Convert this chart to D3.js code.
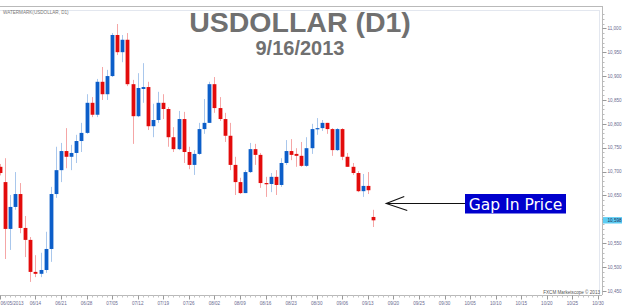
<!DOCTYPE html>
<html>
<head>
<meta charset="utf-8">
<script src="https://cdn.jsdelivr.net/npm/d3@7"></script>
<style>
  html, body { margin: 0; padding: 0; background: #fff; }
  svg { display: block; }
</style>
</head>
<body>
<div id="chart"></div>
<script>
// daily candles, USDOLLAR 06/05/2013 - 09/16/2013
const dates = [
  "06/05","06/06","06/07",
  "06/10","06/11","06/12","06/13","06/14",
  "06/17","06/18","06/19","06/20","06/21",
  "06/24","06/25","06/26","06/27","06/28",
  "07/01","07/02","07/03","07/04","07/05",
  "07/08","07/09","07/10","07/11","07/12",
  "07/15","07/16","07/17","07/18","07/19",
  "07/22","07/23","07/24","07/25","07/26",
  "07/29","07/30","07/31","08/01","08/02",
  "08/05","08/06","08/07","08/08","08/09",
  "08/12","08/13","08/14","08/15","08/16",
  "08/19","08/20","08/21","08/22","08/23",
  "08/26","08/27","08/28","08/29","08/30",
  "09/02","09/03","09/04","09/05","09/06",
  "09/09","09/10","09/11","09/12","09/13",
  "09/16"
];
const opens = [
  10710,10678,10580,10626,10653,10582,10557,10490,10486,10494,
  10538,10653,10703,10743,10731,10739,10764,10781,10844,10819,
  10888,10862,10900,10986,10950,10976,10883,10816,10873,10877,
  10795,10808,10844,10831,10772,10747,10810,10741,10714,10737,
  10789,10802,10883,10833,10810,10775,10714,10678,10655,10699,
  10747,10735,10676,10674,10689,10672,10718,10743,10737,10733,
  10712,10749,10789,10791,10802,10789,10745,10789,10731,10710,
  10697,10659,10670,10605
];
const highs = [
  10716,10728,10651,10699,10676,10607,10563,10525,10530,10574,
  10668,10752,10760,10791,10756,10777,10802,10862,10856,10894,
  10919,10913,10990,11009,10986,10990,10892,10906,10927,10888,
  10842,10867,10862,10835,10793,10827,10825,10752,10745,10802,
  10852,10888,10898,10856,10823,10802,10731,10687,10703,10760,
  10758,10739,10689,10697,10703,10728,10766,10768,10749,10762,
  10772,10800,10812,10808,10802,10791,10791,10791,10739,10718,
  10701,10695,10699,10620
];
const lows = [
  10692,10517,10536,10620,10571,10521,10469,10479,10479,10488,
  10511,10645,10678,10707,10703,10718,10741,10779,10814,10814,
  10850,10850,10898,10944,10929,10879,10758,10814,10844,10787,
  10772,10802,10810,10752,10741,10745,10718,10705,10693,10735,
  10779,10802,10823,10806,10762,10703,10651,10653,10655,10697,
  10714,10666,10647,10657,10651,10668,10714,10724,10710,10710,
  10710,10737,10777,10785,10779,10733,10743,10724,10710,10693,
  10657,10647,10653,10584
];
const closes = [
  10697,10580,10626,10653,10582,10557,10490,10486,10494,10538,
  10653,10703,10743,10731,10739,10764,10781,10844,10819,10888,
  10862,10900,10986,10950,10976,10883,10816,10875,10877,10795,
  10808,10844,10831,10772,10747,10810,10741,10714,10737,10789,
  10802,10883,10833,10810,10775,10714,10678,10655,10699,10747,
  10735,10676,10674,10689,10672,10718,10743,10735,10733,10712,
  10749,10789,10791,10802,10789,10745,10789,10731,10710,10697,
  10659,10670,10661,10598
];

// x axis: tick labels and the day slot they sit on (slots go past the data)
const tickLabels = ["06/05/2013","06/14","06/21","06/28","07/05","07/12","07/19","07/26",
  "08/02","08/09","08/16","08/23","08/30","09/06","09/13","09/20","09/25","09/30",
  "10/05","10/10","10/15","10/20","10/25","10/30"];
const tickSlots = [0,7,12,17,22,27,32,37,42,47,52,57,62,67,72,77,82,87,92,97,102,107,112,117];

const priceTicks = [10450,10500,10550,10600,10650,10700,10750,10800,10850,10900,10950,11000];
const lastPrice = 10598;

const W = 624, H = 308;
const axisX = 602, axisY = 295;
const small = "'Liberation Sans', Arial, sans-serif";

const candles = dates.map((d, i) => ({
  i: i, date: d, o: opens[i], h: highs[i], l: lows[i], c: closes[i]
}));

const svg = d3.select("#chart").append("svg")
  .attr("width", W).attr("height", H)
  .style("font-family", small);

var x = d3.scaleLinear().domain([0, 117]).range([-0.4, 598]);
var y = d3.scaleLinear().domain([10450, 11000]).range([291, 28.3]);

// frame
svg.append("line").attr("x1", 0).attr("x2", axisX).attr("y1", 6.5).attr("y2", 6.5)
  .attr("stroke", "#b9b9b9");
svg.append("line").attr("x1", 0).attr("x2", 599).attr("y1", 10.5).attr("y2", 10.5)
  .attr("stroke", "#e3e7ef");
svg.append("line").attr("x1", 599.5).attr("x2", 599.5).attr("y1", 10).attr("y2", axisY)
  .attr("stroke", "#e3e7ef");

// title
svg.append("text").attr("x", 300).attr("y", 31.5).attr("text-anchor", "middle")
  .style("font-weight", "bold").style("font-size", "28.5px")
  .attr("fill", "#707070").text("USDOLLAR (D1)");
svg.append("text").attr("x", 300).attr("y", 54.5).attr("text-anchor", "middle")
  .style("font-weight", "bold").style("font-size", "20px")
  .attr("fill", "#707070").text("9/16/2013");

svg.append("text").attr("x", 3).attr("y", 14)
  .style("font-size", "4.6px").attr("fill", "#777").text("WATERMARK(USDOLLAR, D1)");

// candles
const g = svg.append("g");
const red = "#e30b0b", blue = "#0c5ec9";
const redWick = "#f5a6a6", blueWick = "#a9c7ec";
const bw = 3.8;

g.selectAll("line.wick").data(candles).enter().append("line")
  .attr("class", "wick")
  .attr("x1", d => Math.round(x(d.i)) + 0.5).attr("x2", d => Math.round(x(d.i)) + 0.5)
  .attr("y1", d => y(d.h)).attr("y2", d => y(d.l))
  .attr("stroke", d => d.c < d.o ? redWick : blueWick).attr("stroke-width", 1);

g.selectAll("rect.body").data(candles).enter().append("rect")
  .attr("class", "body")
  .attr("x", d => Math.round(x(d.i)) + 0.5 - bw / 2)
  .attr("y", d => y(Math.max(d.o, d.c)))
  .attr("width", bw)
  .attr("height", d => Math.max(1.2, Math.abs(y(d.o) - y(d.c))))
  .attr("fill", d => d.c < d.o ? red : blue);

// right price axis
const yAxis = svg.append("g").attr("transform", "translate(" + axisX + ",0)");
yAxis.append("line").attr("x1", 0.5).attr("x2", 0.5).attr("y1", 6).attr("y2", axisY)
  .attr("stroke", "#b9b9b9");
yAxis.selectAll("line.minor").data(d3.range(10440, 11060, 10)).enter().append("line")
  .attr("x1", 0.5).attr("x2", 2.5)
  .attr("y1", d => Math.round(y(d)) + 0.5).attr("y2", d => Math.round(y(d)) + 0.5)
  .attr("stroke", "#bbb")
  .filter(d => y(d) < 10 || y(d) > axisY).remove();
yAxis.selectAll("line.major").data(priceTicks).enter().append("line")
  .attr("x1", 0.5).attr("x2", 4.5)
  .attr("y1", d => Math.round(y(d)) + 0.5).attr("y2", d => Math.round(y(d)) + 0.5)
  .attr("stroke", "#999");
const fmt = d3.format(",");
yAxis.selectAll("text").data(priceTicks.filter(d => d !== 10600)).enter().append("text")
  .attr("x", 5.5).attr("y", d => y(d) + 1.7)
  .style("font-size", "4.6px").attr("fill", "#6a6a90").text(d => fmt(d));
yAxis.append("rect").attr("x", 1).attr("y", y(lastPrice) - 3.2).attr("width", 19).attr("height", 6.4)
  .attr("fill", "#5dcdf3");
yAxis.append("text").attr("x", 5.5).attr("y", y(lastPrice) + 1.7)
  .style("font-size", "4.6px").attr("fill", "#1d2f5a").text(fmt(lastPrice));

// bottom date axis
const xAxis = svg.append("g").attr("transform", "translate(0," + axisY + ")");
xAxis.append("line").attr("x1", 0).attr("x2", axisX).attr("y1", 0.5).attr("y2", 0.5)
  .attr("stroke", "#b9b9b9");
xAxis.selectAll("line.minor").data(d3.range(0, 118)).enter().append("line")
  .attr("x1", d => Math.round(x(d)) + 0.5).attr("x2", d => Math.round(x(d)) + 0.5)
  .attr("y1", 0.5).attr("y2", 2.5).attr("stroke", "#c4c4c4");
xAxis.selectAll("line.major").data(tickSlots).enter().append("line")
  .attr("x1", d => Math.round(x(d)) + 0.5).attr("x2", d => Math.round(x(d)) + 0.5)
  .attr("y1", 0.5).attr("y2", 4.5).attr("stroke", "#999");
xAxis.selectAll("text").data(tickSlots).enter().append("text")
  .attr("x", (d, i) => i === 0 ? 0.5 : x(d))
  .attr("y", 9.5)
  .attr("text-anchor", (d, i) => i === 0 ? "start" : "middle")
  .style("font-size", "4.6px").attr("fill", "#6a6a90")
  .text((d, i) => tickLabels[i]);

svg.append("text").attr("x", 600).attr("y", 293.5).attr("text-anchor", "end")
  .style("font-size", "4.6px").attr("fill", "#555").text("FXCM Marketscope \u00a9 2013");

// annotation
const ann = svg.append("g");
const tipX = x(75.6), tipY = 203.5;
ann.append("line").attr("x1", tipX).attr("x2", 465).attr("y1", tipY).attr("y2", tipY)
  .attr("stroke", "#111").attr("stroke-width", 1.1);
ann.append("path")
  .attr("d", "M" + (tipX + 18) + "," + (tipY - 7) + "L" + tipX + "," + tipY + "L" + (tipX + 21) + "," + (tipY + 7))
  .attr("fill", "none").attr("stroke", "#111").attr("stroke-width", 1.1);
ann.append("rect").attr("x", 465).attr("y", 194).attr("width", 101).attr("height", 19.5)
  .attr("fill", "#0000cd");
ann.append("text").attr("x", 515.5).attr("y", 210).attr("text-anchor", "middle")
  .style("font-family", "'DejaVu Sans', Verdana, sans-serif")
  .style("font-size", "15.5px").attr("fill", "#fff").text("Gap In Price");
</script>
</body>
</html>
